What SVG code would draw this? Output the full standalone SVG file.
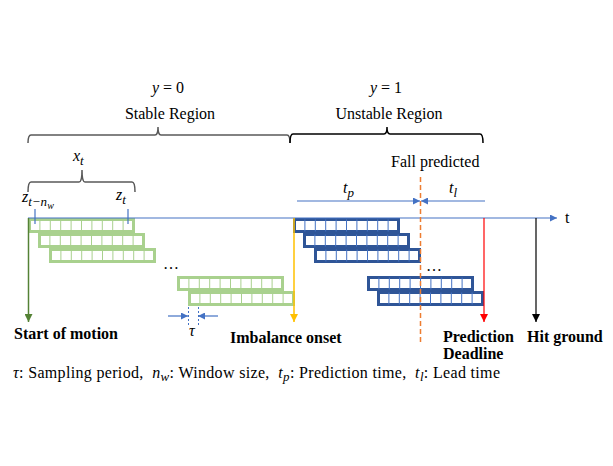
<svg xmlns="http://www.w3.org/2000/svg" xmlns:xlink="http://www.w3.org/1999/xlink" width="613" height="466" viewBox="0 0 613 466">
<style>
text{font-family:"Liberation Serif","Times New Roman",serif;font-size:16px;fill:#000}
.m{font-style:italic}
.b{font-weight:bold}
.brace{fill:none;stroke-width:1.5}
.ax{stroke:#4472C4;stroke-width:1.2;fill:none}
</style>
<defs>
<marker id="ab" viewBox="0 0 10 10" refX="10" refY="5" markerWidth="7" markerHeight="7" markerUnits="userSpaceOnUse" orient="auto"><path d="M0,0L10,5L0,10z" fill="#4472C4"/></marker>
<marker id="ag" viewBox="0 0 10 10" refX="10" refY="5" markerWidth="8" markerHeight="8" markerUnits="userSpaceOnUse" orient="auto"><path d="M0,0L10,5L0,10z" fill="#548235"/></marker>
<marker id="ay" viewBox="0 0 10 10" refX="10" refY="5" markerWidth="8" markerHeight="8" markerUnits="userSpaceOnUse" orient="auto"><path d="M0,0L10,5L0,10z" fill="#FFC000"/></marker>
<marker id="ar" viewBox="0 0 10 10" refX="10" refY="5" markerWidth="8" markerHeight="8" markerUnits="userSpaceOnUse" orient="auto"><path d="M0,0L10,5L0,10z" fill="#FF0000"/></marker>
<marker id="ak" viewBox="0 0 10 10" refX="10" refY="5" markerWidth="8" markerHeight="8" markerUnits="userSpaceOnUse" orient="auto"><path d="M0,0L10,5L0,10z" fill="#000"/></marker>
<g id="gbox">
<rect x="1.5" y="1.5" width="104" height="12" fill="#fff" stroke="#A9D18E" stroke-width="3"/>
<path d="M11.9,1.5v12M22.3,1.5v12M32.7,1.5v12M43.1,1.5v12M53.5,1.5v12M63.9,1.5v12M74.3,1.5v12M84.7,1.5v12M95.1,1.5v12" stroke="#A9D18E" stroke-width="1"/>
</g>
<g id="bbox">
<rect x="1.5" y="1.5" width="104" height="12" fill="#fff" stroke="#2F5597" stroke-width="3"/>
<path d="M11.9,1.5v12M22.3,1.5v12M32.7,1.5v12M43.1,1.5v12M53.5,1.5v12M63.9,1.5v12M74.3,1.5v12M84.7,1.5v12M95.1,1.5v12" stroke="#4472C4" stroke-width="1"/>
</g>
</defs>
<rect width="613" height="466" fill="#fff"/>

<g id="region-labels">
<text x="168" y="93" text-anchor="middle" xml:space="preserve"><tspan class="m">y</tspan> = 0</text>
<text x="170" y="119" text-anchor="middle">Stable Region</text>
<text x="386" y="93" text-anchor="middle" xml:space="preserve"><tspan class="m">y</tspan> = 1</text>
<text x="389" y="119" text-anchor="middle">Unstable Region</text>
</g>

<g id="braces">
<path class="brace" stroke="#595959" d="M28,143 Q28,135 31,135 H155 Q158,135 158,127 Q158,135 161,135 H287 Q290,135 290,143"/>
<path class="brace" stroke="#000" d="M290,143 Q290,134 293,134 H384 Q387,134 387,127 Q387,134 390,134 H480 Q483,134 483,143"/>
<path class="brace" stroke="#595959" d="M28,192 Q28,182 31,182 H79 Q82,182 82,170 Q82,182 85,182 H132 Q135,182 135,192"/>
</g>

<g id="xt-labels">
<text x="73" y="161" class="m">x<tspan font-size="13" dy="4">t</tspan></text>
<text x="22" y="202" class="m">z<tspan font-size="13" dy="4">t−n<tspan font-size="10" dy="3">w</tspan></tspan></text>
<text x="116" y="200" class="m">z<tspan font-size="13" dy="4">t</tspan></text>
<text x="391" y="167">Fall predicted</text>
<text x="343" y="193" class="m">t<tspan font-size="13" dy="4">p</tspan></text>
<text x="449" y="193" class="m">t<tspan font-size="13" dy="4">l</tspan></text>
</g>

<g id="windows-green">
<use xlink:href="#gbox" x="28" y="218"/>
<use xlink:href="#gbox" x="38" y="233"/>
<use xlink:href="#gbox" x="49" y="248"/>
<use xlink:href="#gbox" x="177" y="276"/>
<use xlink:href="#gbox" x="188" y="291"/>
</g>
<g id="windows-blue">
<use xlink:href="#bbox" x="293" y="218"/>
<use xlink:href="#bbox" x="303" y="233"/>
<use xlink:href="#bbox" x="314" y="248"/>
<use xlink:href="#bbox" x="367" y="276"/>
<use xlink:href="#bbox" x="377" y="291"/>
</g>

<g id="connectors">
<line class="ax" x1="28" y1="218" x2="557" y2="218" marker-end="url(#ab)"/>
<line stroke="#4472C4" stroke-width="1.2" x1="35" y1="209" x2="35" y2="224"/>
<line stroke="#4472C4" stroke-width="1.2" x1="128" y1="209" x2="128" y2="224"/>
<line stroke="#548235" stroke-width="1.5" x1="28.5" y1="218" x2="28.5" y2="322" marker-end="url(#ag)"/>
<line stroke="#FFC000" stroke-width="1.5" x1="294" y1="218" x2="294" y2="322" marker-end="url(#ay)"/>
<line stroke="#FF0000" stroke-width="1.2" x1="484" y1="218" x2="484" y2="322" marker-end="url(#ar)"/>
<line stroke="#000" stroke-width="1.2" x1="536" y1="218" x2="536" y2="322" marker-end="url(#ak)"/>
<line stroke="#ED7D31" stroke-width="1.5" stroke-dasharray="5,3" x1="420.5" y1="177" x2="420.5" y2="343"/>
<line class="ax" x1="297" y1="201" x2="420" y2="201" marker-end="url(#ab)"/>
<line class="ax" x1="485" y1="201" x2="421" y2="201" marker-end="url(#ab)"/>
<line class="ax" x1="168" y1="316" x2="188" y2="316" marker-end="url(#ab)"/>
<line class="ax" x1="218" y1="316" x2="198" y2="316" marker-end="url(#ab)"/>
<line stroke="#4472C4" stroke-width="1" stroke-dasharray="2,2" x1="188.5" y1="307" x2="188.5" y2="326"/>
<line stroke="#4472C4" stroke-width="1" stroke-dasharray="2,2" x1="198.5" y1="307" x2="198.5" y2="326"/>
</g>

<g id="dots">
<text x="163" y="269" font-size="14">…</text>
<text x="426" y="271" font-size="14">…</text>
<text x="189" y="336" class="m">τ</text>
<text x="565" y="223">t</text>
</g>

<g id="event-labels">
<text x="14" y="339" class="b">Start of motion</text>
<text x="230" y="343" class="b">Imbalance onset</text>
<text x="443" y="342" class="b">Prediction</text>
<text x="443" y="359" class="b">Deadline</text>
<text x="527" y="342" class="b">Hit ground</text>
</g>

<g id="caption">
<text x="13" y="378" xml:space="preserve" textLength="487" lengthAdjust="spacing"><tspan class="m">τ</tspan>: Sampling period,  <tspan class="m">n<tspan font-size="13" dy="3">w</tspan></tspan><tspan dy="-3">: Window size,  </tspan><tspan class="m">t<tspan font-size="13" dy="3">p</tspan></tspan><tspan dy="-3">: Prediction time,  </tspan><tspan class="m">t<tspan font-size="13" dy="3">l</tspan></tspan><tspan dy="-3">: Lead time</tspan></text>
</g>
</svg>
